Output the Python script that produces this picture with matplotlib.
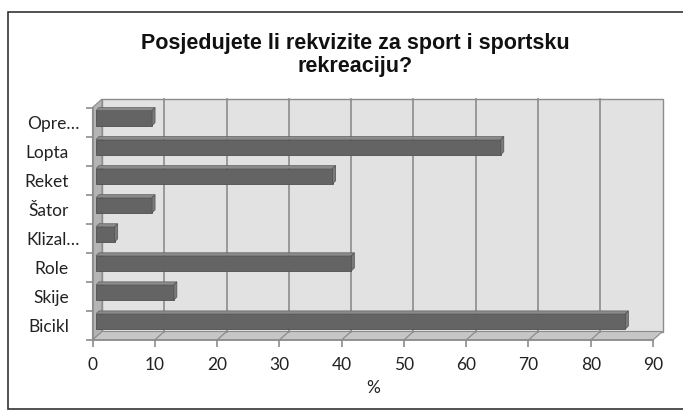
#!/usr/bin/env python3
# -*- coding: utf-8 -*-

"""
Horizontal 3D-look bar chart: sports equipment ownership.
"""

import numpy as np
import matplotlib
matplotlib.use("Agg")
import matplotlib.pyplot as plt
from matplotlib.patches import Polygon, Rectangle
from matplotlib.transforms import ScaledTranslation

### Data ###

categories = ["Bicikl", "Skije", "Role", "Klizal…", "Šator", "Reket", "Lopta", "Opre…"]
values = [85, 12.5, 41, 3, 9, 38, 65, 9]
x_ticks = [0, 10, 20, 30, 40, 50, 60, 70, 80, 90]

TITLE = "Posjedujete li rekvizite za sport i sportsku\nrekreaciju?"

W, H, DPI = 683, 412, 100
# front plane of the plot, in pixels (from top-left)
X0, X1 = 92.5, 653.0
Y_TOP, Y_BOT = 107.5, 340.0
DX, DY = 9.5, 8.5   # depth of the 3D box, pixels

WALL = "#e2e2e2"
GRID = "#8c8c8c"
BAR = "#646464"
FONT = "Lato"
FS = 12.5

### Plot ###

if __name__ == '__main__':
    fig = plt.figure(figsize=(W / DPI, H / DPI), dpi=DPI)
    ax = fig.add_axes([X0 / W, (H - Y_BOT) / H, (X1 - X0) / W, (Y_BOT - Y_TOP) / H])
    ax.set_xlim(0, 90)
    ax.set_ylim(-0.5, len(categories) - 0.5)
    ax.patch.set_visible(False)

    ax_w, ax_h = X1 - X0, Y_BOT - Y_TOP
    dxa, dya = DX / ax_w, DY / ax_h

    def poly(pts, **kw):
        p = Polygon(pts, closed=True, transform=ax.transAxes, clip_on=False, **kw)
        ax.add_patch(p)

    # back wall
    poly([(dxa, dya), (1 + dxa, dya), (1 + dxa, 1 + dya), (dxa, 1 + dya)],
         facecolor=WALL, edgecolor=GRID, lw=1, zorder=0)
    # left side wall
    poly([(0, 0), (dxa, dya), (dxa, 1 + dya), (0, 1)],
         facecolor="#b4b4b4", edgecolor=GRID, lw=0.8, zorder=0)
    # floor
    poly([(0, 0), (1, 0), (1 + dxa, dya), (dxa, dya)],
         facecolor="#c6c6c6", edgecolor=GRID, lw=0.8, zorder=0)

    # wall gridlines and floor diagonals
    for t in x_ticks[1:-1]:
        xa = t / 90
        ax.plot([xa + dxa, xa + dxa], [dya, 1 + dya], transform=ax.transAxes,
                color=GRID, lw=1.2, clip_on=False, zorder=0.5)
        ax.plot([xa, xa + dxa], [0, dya], transform=ax.transAxes,
                color=GRID, lw=0.9, clip_on=False, zorder=0.5)

    # bars with a small 3D cap
    ypos = np.arange(len(categories))
    h = 0.52
    px_x = 90 / ax_w
    px_y = len(categories) / ax_h
    sx, sy = 3.5 * px_x, 4.0 * px_y     # bars sit half way into the box
    ddx, ddy = 3.0 * px_x, 3.0 * px_y   # bar depth
    for y, v in zip(ypos, values):
        yc = y + sy
        ax.add_patch(Rectangle((sx, yc - h / 2), v, h, facecolor=BAR,
                               edgecolor="#505050", lw=0.6, zorder=3))
        ax.add_patch(Polygon([(sx, yc + h / 2), (sx + v, yc + h / 2),
                              (sx + v + ddx, yc + h / 2 + ddy), (sx + ddx, yc + h / 2 + ddy)],
                             closed=True, facecolor="#8a8a8a", edgecolor="#606060",
                             lw=0.5, zorder=3, clip_on=False))
        ax.add_patch(Polygon([(sx + v, yc - h / 2), (sx + v + ddx, yc - h / 2 + ddy),
                              (sx + v + ddx, yc + h / 2 + ddy), (sx + v, yc + h / 2)],
                             closed=True, facecolor="#7a7a7a", edgecolor="#505050",
                             lw=0.5, zorder=3, clip_on=False))

    # axes
    for s in ["top", "right"]:
        ax.spines[s].set_visible(False)
    for s in ["left", "bottom"]:
        ax.spines[s].set_color(GRID)
        ax.spines[s].set_linewidth(1.2)

    ax.set_xticks(x_ticks)
    ax.set_xticklabels([str(t) for t in x_ticks])
    ax.set_yticks(np.arange(len(categories) + 1) - 0.5)
    ax.set_yticklabels([])
    ax.set_yticks(ypos, minor=True)
    ax.set_yticklabels(categories, minor=True)
    ax.tick_params(axis="y", which="major", length=5, color=GRID, width=1.2)
    ax.tick_params(axis="y", which="minor", length=0, pad=17)
    ax.tick_params(axis="x", length=5, color=GRID, width=1.2, pad=7)
    for lab in ax.get_xticklabels() + ax.get_yticklabels(minor=True):
        lab.set_fontfamily(FONT)
        lab.set_fontsize(FS)
        lab.set_color("#222222")
    # truncated labels reach closer to the axis, as in the original
    for lab in ax.get_yticklabels(minor=True):
        if lab.get_text().endswith("…"):
            lab.set_transform(lab.get_transform()
                              + ScaledTranslation(11 / DPI, 0, fig.dpi_scale_trans))

    ax.set_xlabel("%", fontfamily=FONT, fontsize=FS, color="#222222", labelpad=5)

    fig.text(355 / W, 1 - 55 / H, TITLE, ha="center", va="center",
             fontfamily="Liberation Sans", fontweight="bold", fontsize=15.5,
             color="#111111", linespacing=1.15)

    # outer frame
    fig.patches.append(Rectangle((8 / W, 3 / H), 676 / W, 397 / H,
                                 transform=fig.transFigure, fill=False,
                                 edgecolor="#333333", lw=1.2))

    fig.savefig("out.png", dpi=DPI)
